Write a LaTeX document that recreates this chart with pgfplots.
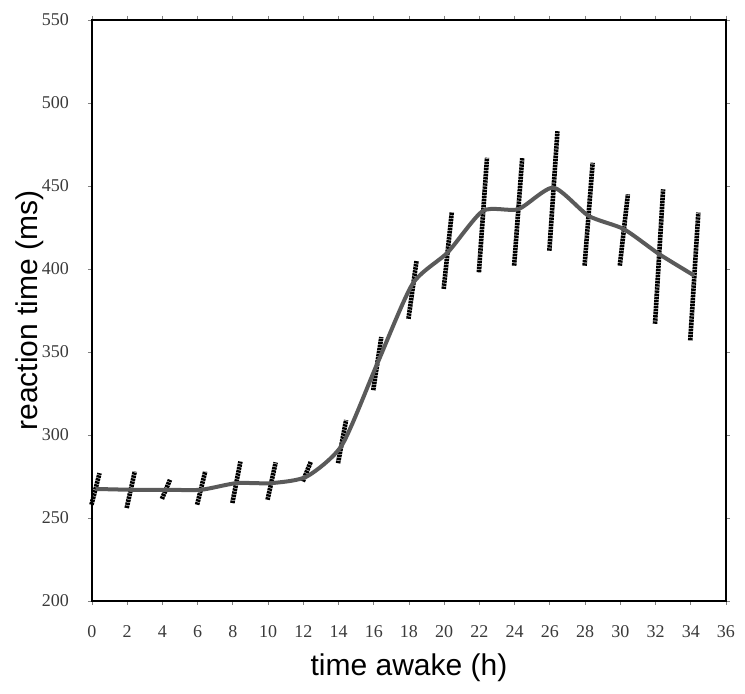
\documentclass[border=0pt]{standalone}
\usepackage{pgfplots}
\pgfplotsset{compat=1.18}
\usepackage{fontspec}
\setmainfont{Liberation Serif}
\newfontfamily\arial{Liberation Sans}

\definecolor{curvegray}{HTML}{5A5A5A}
\definecolor{ticktext}{HTML}{3A3A3A}

% mean reaction time per 2 h of wakefulness
\pgfplotstableread{
x     rt
0.2   267.5
2.2   267
4.2   267
6.2   267
8.2   271
10.2  271
12.2  275
14.2  294
16.2  343
18.2  391
20.2  410
22.2  435
24.2  436
26.2  449
28.2  432
30.2  424
32.2  409
34.2  396
}\meantable

\begin{document}
\begin{tikzpicture}
\begin{axis}[
    scale only axis,
    width=317pt, height=290.5pt,
    xmin=0, xmax=36, ymin=200, ymax=550,
    xtick={0,2,...,36},
    ytick={200,250,...,550},
    tick align=outside,
    major tick length=2pt,
    tick style={gray, line width=0.4pt},
    axis line style={black, line width=0.7pt},
    /pgf/number format/assume math mode=true,
    ticklabel style={font=\fontsize{9}{11}\selectfont, text=ticktext},
    xticklabel style={text height=6.5pt, text depth=0pt, yshift=-6pt},
    yticklabel style={xshift=-6pt},
    xlabel={time awake (h)},
    ylabel={reaction time (ms)},
    label style={font=\arial\fontsize{15}{18}\selectfont},
    xlabel style={at={(axis description cs:0.5,-0.115)}, anchor=center},
    ylabel style={at={(axis description cs:-0.098,0.5)}, anchor=center},
    unbounded coords=jump,
    clip=false,
]
% white margin of the original figure
\path (rel axis cs:-0.1451,-0.1601) rectangle (rel axis cs:1.030,1.0344);
% slanted error bars (bottom end, top end, gap)
\addplot[black, line width=2.3pt, dash pattern=on 1.2pt off 0.35pt] coordinates {
    (-0.03,258) (0.43,277) (nan,nan)
    (1.97,256) (2.43,278) (nan,nan)
    (3.97,261.5) (4.43,273) (nan,nan)
    (5.97,258) (6.43,278) (nan,nan)
    (7.97,259) (8.43,284) (nan,nan)
    (9.97,261) (10.43,283.5) (nan,nan)
    (11.97,272) (12.43,284) (nan,nan)
    (13.97,283) (14.43,309) (nan,nan)
    (15.97,327) (16.43,359) (nan,nan)
    (17.97,370) (18.43,405) (nan,nan)
    (19.97,388) (20.43,434) (nan,nan)
    (21.97,398) (22.43,467) (nan,nan)
    (23.97,402) (24.43,467) (nan,nan)
    (25.97,411) (26.43,483) (nan,nan)
    (27.97,402) (28.43,464) (nan,nan)
    (29.97,402) (30.43,445) (nan,nan)
    (31.97,367) (32.43,448) (nan,nan)
    (33.97,357) (34.43,434)
};
% smoothed mean curve
\addplot[curvegray, line width=2pt, smooth, tension=0.4] table[x=x, y=rt] {\meantable};
\end{axis}
\end{tikzpicture}
\end{document}
